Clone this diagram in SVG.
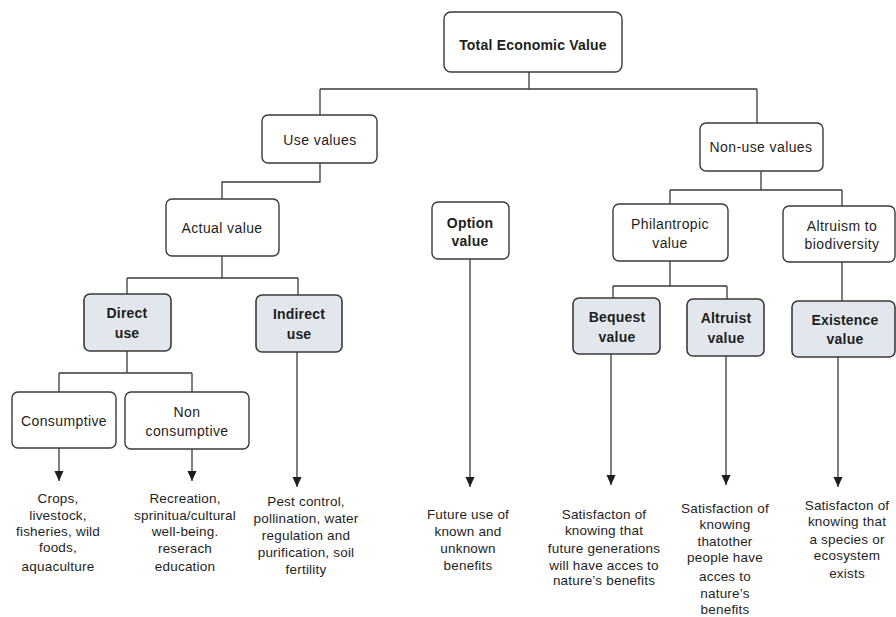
<svg xmlns="http://www.w3.org/2000/svg" width="896" height="617" viewBox="0 0 896 617">
<style>
.box{fill:#fff;stroke:#3a3a3a;stroke-width:1.4}
.hl{fill:#e2e7ee;stroke:#3a3a3a;stroke-width:1.6}
text{font-family:"Liberation Sans",Arial,sans-serif;font-size:14px;letter-spacing:0.4px;fill:#1e1e1e;text-anchor:middle}
.b{font-weight:bold;letter-spacing:0.2px}
.c{fill:none;stroke:#3a3a3a;stroke-width:1.3}
.d text{font-size:13.5px;letter-spacing:0.2px}
</style>
<defs>
<marker id="ah" markerWidth="10" markerHeight="11" refX="11" refY="5" orient="auto" markerUnits="userSpaceOnUse" viewBox="0 0 11 10">
<path d="M0,0 L11,5 L0,10 Z" fill="#1e1e1e"/>
</marker>
</defs>
<rect width="896" height="617" fill="#fff"/>
<g id="connectors">
<path class="c" d="M529,72 V89 M320,89 H757 M320,89 V115 M757,89 V123"/>
<path class="c" d="M320,163 V182 H222 V199"/>
<path class="c" d="M222,256 V278 M127,278 H298 M127,278 V294 M298,278 V295"/>
<path class="c" d="M127,351 V373 M59,373 H192 M59,373 V392 M192,373 V392"/>
<path class="c" d="M761,171 V190 M670,190 H842 M670,190 V204 M842,190 V206"/>
<path class="c" d="M670,261 V286 M613,286 H727 M613,286 V298 M727,286 V299"/>
<path class="c" d="M842,262 V301"/>
<path class="c" marker-end="url(#ah)" d="M59,448 V481"/>
<path class="c" marker-end="url(#ah)" d="M192,449 V481"/>
<path class="c" marker-end="url(#ah)" d="M297,352 V487"/>
<path class="c" marker-end="url(#ah)" d="M470,259 V487"/>
<path class="c" marker-end="url(#ah)" d="M611,354 V485"/>
<path class="c" marker-end="url(#ah)" d="M726,356 V485"/>
<path class="c" marker-end="url(#ah)" d="M838,357 V487"/>
</g>
<g id="tev"><rect class="box" x="444" y="12" width="178" height="60" rx="7"/><text class="b" x="533" y="50" font-size="15" letter-spacing="0.6">Total Economic Value</text></g>
<g id="use"><rect class="box" x="262" y="115" width="115" height="48" rx="6"/><text x="320" y="145">Use values</text></g>
<g id="nonuse"><rect class="box" x="700" y="123" width="123" height="48" rx="6"/><text x="761" y="152">Non-use values</text></g>
<g id="actual"><rect class="box" x="166" y="199" width="113" height="57" rx="6"/><text x="222" y="233">Actual value</text></g>
<g id="direct"><rect class="hl" x="84" y="294" width="87" height="57" rx="6"/><text class="b" x="127" y="318">Direct</text><text class="b" x="127" y="338">use</text></g>
<g id="indirect"><rect class="hl" x="256" y="295" width="86" height="57" rx="6"/><text class="b" x="299" y="319">Indirect</text><text class="b" x="299" y="339">use</text></g>
<g id="consumptive"><rect class="box" x="12" y="392" width="104" height="56" rx="6"/><text x="64" y="426">Consumptive</text></g>
<g id="nonconsumptive"><rect class="box" x="125" y="392" width="124" height="57" rx="6"/><text x="187" y="417">Non</text><text x="187" y="436">consumptive</text></g>
<g id="option"><rect class="box" x="432" y="202" width="77" height="57" rx="6"/><text class="b" x="470" y="228">Option</text><text class="b" x="470" y="246">value</text></g>
<g id="philantropic"><rect class="box" x="613" y="204" width="115" height="57" rx="6"/><text x="670" y="229">Philantropic</text><text x="670" y="248">value</text></g>
<g id="altruism"><rect class="box" x="783" y="206" width="112" height="56" rx="6"/><text x="842" y="231">Altruism to</text><text x="842" y="249">biodiversity</text></g>
<g id="bequest"><rect class="hl" x="573" y="298" width="87" height="56" rx="6"/><text class="b" x="617" y="322">Bequest</text><text class="b" x="617" y="342">value</text></g>
<g id="altruist"><rect class="hl" x="687" y="299" width="77" height="57" rx="6"/><text class="b" x="726" y="323">Altruist</text><text class="b" x="726" y="343">value</text></g>
<g id="existence"><rect class="hl" x="792" y="301" width="103" height="56" rx="6"/><text class="b" x="845" y="325">Existence</text><text class="b" x="845" y="344">value</text></g>
<g id="desc" class="d">
<text x="58"><tspan x="58" y="503">Crops,</tspan><tspan x="58" y="520">livestock,</tspan><tspan x="58" y="536">fisheries, wild</tspan><tspan x="58" y="552">foods,</tspan><tspan x="58" y="571">aquaculture</tspan></text>
<text x="185"><tspan x="185" y="503">Recreation,</tspan><tspan x="185" y="520">sprinitua/cultural</tspan><tspan x="185" y="536">well-being.</tspan><tspan x="185" y="553">reserach</tspan><tspan x="185" y="571">education</tspan></text>
<text x="306"><tspan x="306" y="506">Pest control,</tspan><tspan x="306" y="523">pollination, water</tspan><tspan x="306" y="540">regulation and</tspan><tspan x="306" y="557">purification, soil</tspan><tspan x="306" y="574">fertility</tspan></text>
<text x="468"><tspan x="468" y="519">Future use of</tspan><tspan x="468" y="536">known and</tspan><tspan x="468" y="553">unknown</tspan><tspan x="468" y="570">benefits</tspan></text>
<text x="604"><tspan x="604" y="519">Satisfacton of</tspan><tspan x="604" y="535">knowing that</tspan><tspan x="604" y="553">future generations</tspan><tspan x="604" y="570">will have acces to</tspan><tspan x="604" y="585">nature’s benefits</tspan></text>
<text x="725"><tspan x="725" y="513">Satisfaction of</tspan><tspan x="725" y="529">knowing</tspan><tspan x="725" y="546">thatother</tspan><tspan x="725" y="562">people have</tspan><tspan x="725" y="581">acces to</tspan><tspan x="725" y="598">nature’s</tspan><tspan x="725" y="614">benefits</tspan></text>
<text x="847"><tspan x="847" y="510">Satisfacton of</tspan><tspan x="847" y="526">knowing that</tspan><tspan x="847" y="544">a species or</tspan><tspan x="847" y="560">ecosystem</tspan><tspan x="847" y="578">exists</tspan></text>
</g>
</svg>
